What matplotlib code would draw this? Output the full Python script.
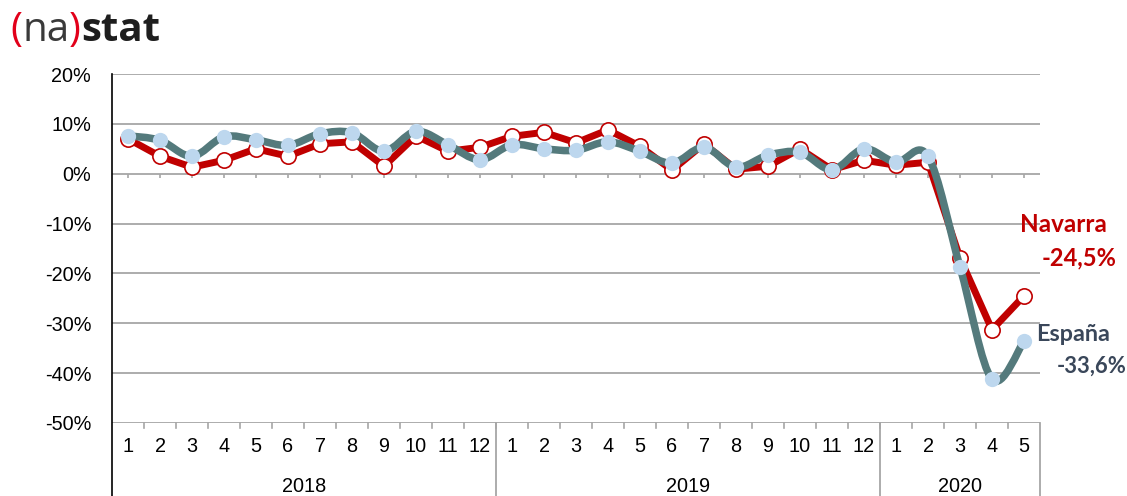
import matplotlib
matplotlib.use("Agg")
import matplotlib.pyplot as plt
from matplotlib.path import Path
from matplotlib.patches import PathPatch
from matplotlib.lines import Line2D
import numpy as np

# ---- data ----
months = [str(m) for m in range(1, 13)] + [str(m) for m in range(1, 13)] + [str(m) for m in range(1, 6)]
years = ["2018", "2019", "2020"]
year_counts = [12, 12, 5]
navarra = [7.0, 3.5, 1.3, 2.7, 5.0, 3.5, 6.0, 6.4, 1.5, 7.6, 4.5, 5.3,
           7.5, 8.3, 6.2, 8.8, 5.5, 0.7, 6.0, 0.9, 1.5, 5.0, 0.8, 2.7,
           1.7, 2.3, -16.9, -31.3, -24.5]
espana = [7.6, 6.7, 3.5, 7.4, 6.8, 5.7, 8.0, 8.2, 4.5, 8.5, 5.8, 2.8,
          5.8, 5.0, 4.7, 6.4, 4.5, 2.1, 5.3, 1.3, 3.7, 4.3, 0.8, 5.0,
          2.3, 3.5, -18.7, -41.2, -33.6]
yticks = [20, 10, 0, -10, -20, -30, -40, -50]
label_navarra = ("Navarra", "-24,5%")
label_espana = ("España", "-33,6%")

RED = "#C00000"
TEAL = "#547A7C"
LIGHTBLUE = "#BDD7EE"
DARK = "#3A475A"
GRID = "#A6A6A6"
FS = 14.3

W, H = 1127, 496
fig = plt.figure(figsize=(W / 100, H / 100), dpi=100)
L, R, T, B = 112, 1040, 74, 423
ax = fig.add_axes([L / W, 1 - B / H, (R - L) / W, (B - T) / H])

n = len(months)
x = np.arange(1, n + 1)
ax.set_xlim(0.5, n + 0.5)
ax.set_ylim(-50, 20)

for s in ax.spines.values():
    s.set_visible(False)

# gridlines
for v in yticks:
    ax.axhline(v, color=GRID, lw=1.3, zorder=1)

# y tick labels
ax.set_yticks(yticks)
ax.set_yticklabels([f"{v}%" for v in yticks], fontsize=FS, family="Liberation Sans")
ax.tick_params(axis="y", length=0, pad=15)
ax.set_xticks([])

# small ticks on zero line at category centers
for xi in x:
    ax.plot([xi, xi], [0, -0.8], color=GRID, lw=1.2, zorder=1, solid_capstyle="butt")

# left spine extended to bottom
ax.add_line(Line2D([0, 0], [1, -(H - B) / (B - T)], transform=ax.transAxes,
                   color="black", lw=1.2, clip_on=False, zorder=2))

# bottom ticks at category boundaries and year separators
ytr = ax.get_xaxis_transform()
bottom_ax = -(H - B) / (B - T)
for k in range(1, n):
    ax.add_line(Line2D([k + 0.5, k + 0.5], [0, -5 / (B - T)], transform=ytr,
                       color=GRID, lw=1.2, clip_on=False))
edges = np.cumsum([0] + year_counts)
for e in edges[1:]:
    ax.add_line(Line2D([e + 0.5, e + 0.5], [0, bottom_ax], transform=ytr,
                       color=GRID, lw=1.3, clip_on=False))

# month labels
for xi, m in zip(x, months):
    ax.text(xi, -23 / (B - T), m, transform=ytr, ha="center", va="center",
            fontsize=FS, family="Liberation Sans", color="black")
for yr, a, b in zip(years, edges[:-1], edges[1:]):
    ax.text((a + b) / 2 + 0.5, -64 / (B - T), yr, transform=ytr, ha="center", va="center",
            fontsize=FS, family="Liberation Sans", color="black")

# Navarra: straight line, white markers
ax.plot(x, navarra, color=RED, lw=5.0, zorder=3, solid_joinstyle="round", solid_capstyle="round")
ax.plot(x, navarra, ls="none", marker="o", ms=11, mfc="white", mec=RED, mew=1.2, zorder=4)

# España: smoothed (Bezier) line, light blue markers
pts = np.column_stack([x, espana]).astype(float)
verts = [tuple(pts[0])]
codes = [Path.MOVETO]
for i in range(len(pts) - 1):
    p0 = pts[i - 1] if i > 0 else pts[i]
    p1 = pts[i]
    p2 = pts[i + 1]
    p3 = pts[i + 2] if i + 2 < len(pts) else pts[i + 1]
    c1 = p1 + (p2 - p0) / 6.0
    c2 = p2 - (p3 - p1) / 6.0
    verts += [tuple(c1), tuple(c2), tuple(p2)]
    codes += [Path.CURVE4] * 3
patch = PathPatch(Path(verts, codes), fill=False, edgecolor=TEAL, lw=5.4,
                  capstyle="round", joinstyle="round", zorder=5)
ax.add_patch(patch)
ax.plot(x, espana, ls="none", marker="o", ms=11, mfc=LIGHTBLUE, mec=LIGHTBLUE, mew=0, zorder=6)

# end labels
ax.text(30.22, -10.2, label_navarra[0], ha="center", va="center", fontsize=17.5,
        fontweight="bold", family="Lato", color=RED, clip_on=False)
ax.text(30.72, -16.8, label_navarra[1], ha="center", va="center", fontsize=17,
        fontweight="bold", family="Lato", color=RED, clip_on=False)
ax.text(30.53, -32.3, label_espana[0], ha="center", va="center", fontsize=16.8,
        fontweight="bold", family="Lato", color=DARK, clip_on=False)
ax.text(31.1, -38.7, label_espana[1], ha="center", va="center", fontsize=15.8,
        fontweight="bold", family="Lato", color=DARK, clip_on=False)

# logo
renderer = fig.canvas.get_renderer()
xpos = 10 / W
ybase = 1 - 41 / H
parts = [("(", "#E2001A", "normal"), ("na", "#3A3A3A", "normal"), (")", "#E2001A", "normal"),
         ("stat", "#1E1E1E", "bold")]
for txt, col, wt in parts:
    t = fig.text(xpos, ybase, txt, color=col, fontsize=29, fontweight=wt,
                 family="Open Sans", ha="left", va="baseline")
    bb = t.get_window_extent(renderer)
    xpos = bb.x1 / W

fig.savefig("out.png", dpi=100)
